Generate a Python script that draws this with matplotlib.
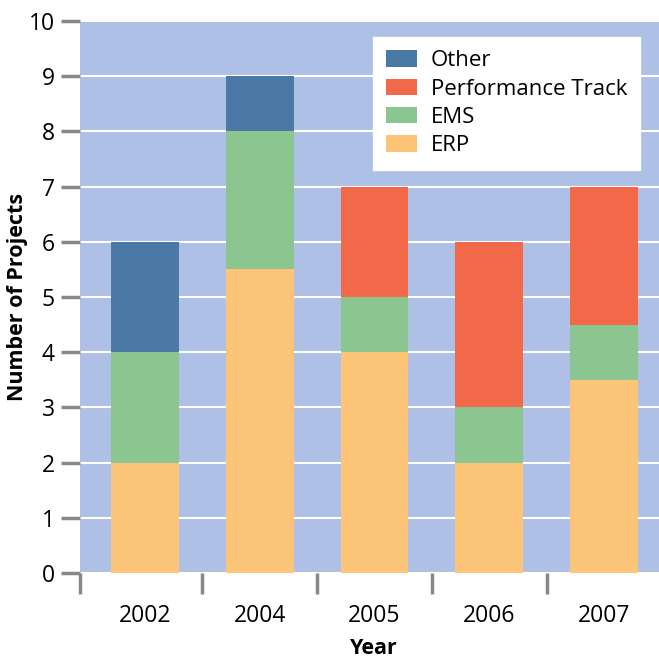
import matplotlib.pyplot as plt
import numpy as np

years = ["2002", "2004", "2005", "2006", "2007"]
erp = [2, 5.5, 4, 2, 3.5]
ems = [2, 2.5, 1, 1, 1]
perf = [0, 0, 2, 3, 2.5]
other = [2, 1, 0, 0, 0]

plt.rcParams['font.family'] = ['Open Sans', 'DejaVu Sans']

fig = plt.figure(figsize=(6.59, 6.58), dpi=100)
ax = fig.add_axes([80/659, 1-573/658, 579/659, 552/658])
ax.set_facecolor("#aec0e5")

x = np.arange(len(years))
w = 0.59
c_erp, c_ems, c_perf, c_other = "#fdc577", "#8bc58f", "#f2694a", "#4a79a6"

b1 = ax.bar(x, erp, w, color=c_erp, label="ERP", zorder=3)
b2 = ax.bar(x, ems, w, bottom=erp, color=c_ems, label="EMS", zorder=3)
bot = np.array(erp) + np.array(ems)
b3 = ax.bar(x, perf, w, bottom=bot, color=c_perf, label="Performance Track", zorder=3)
bot = bot + np.array(perf)
b4 = ax.bar(x, other, w, bottom=bot, color=c_other, label="Other", zorder=3)

ax.set_xlim(-0.565, 4.478)
ax.set_ylim(0, 10)
ax.set_yticks(range(0, 11))
ax.grid(axis="y", color="white", linewidth=1.5, zorder=1)
ax.set_axisbelow(True)

ax.set_xticks(x)
ax.set_xticklabels(years)
ax.set_xticks([-0.565, 0.5, 1.5, 2.5, 3.5], minor=True)
ax.tick_params(axis="x", which="major", length=0, pad=22, labelsize=16.5)
ax.tick_params(axis="x", which="minor", length=15, width=2.5, color="#888888")
ax.tick_params(axis="y", length=14, width=2.5, color="#888888", labelsize=16.5, pad=4)

for s in ax.spines.values():
    s.set_visible(False)

# axis titles placed by hand so they stay inside the figure
fig.text(374/659, 1-648/658, "Year", fontsize=15.5, fontweight="bold", ha="center", va="center")
fig.text(18/659, 1-297/658, "Number of Projects", fontsize=15.5, fontweight="bold",
         ha="center", va="center", rotation=90)

leg = ax.legend(handles=[b4, b3, b2, b1], loc="upper right", bbox_to_anchor=(0.968, 0.971),
                frameon=True, fancybox=False, fontsize=16, handlelength=1.4,
                handleheight=0.75, handletextpad=0.6, borderpad=0.6, labelspacing=0.33,
                borderaxespad=0.0)
leg.get_frame().set_edgecolor("white")
leg.get_frame().set_facecolor("white")
leg.get_frame().set_alpha(1)

fig.savefig("out.png", dpi=100)
